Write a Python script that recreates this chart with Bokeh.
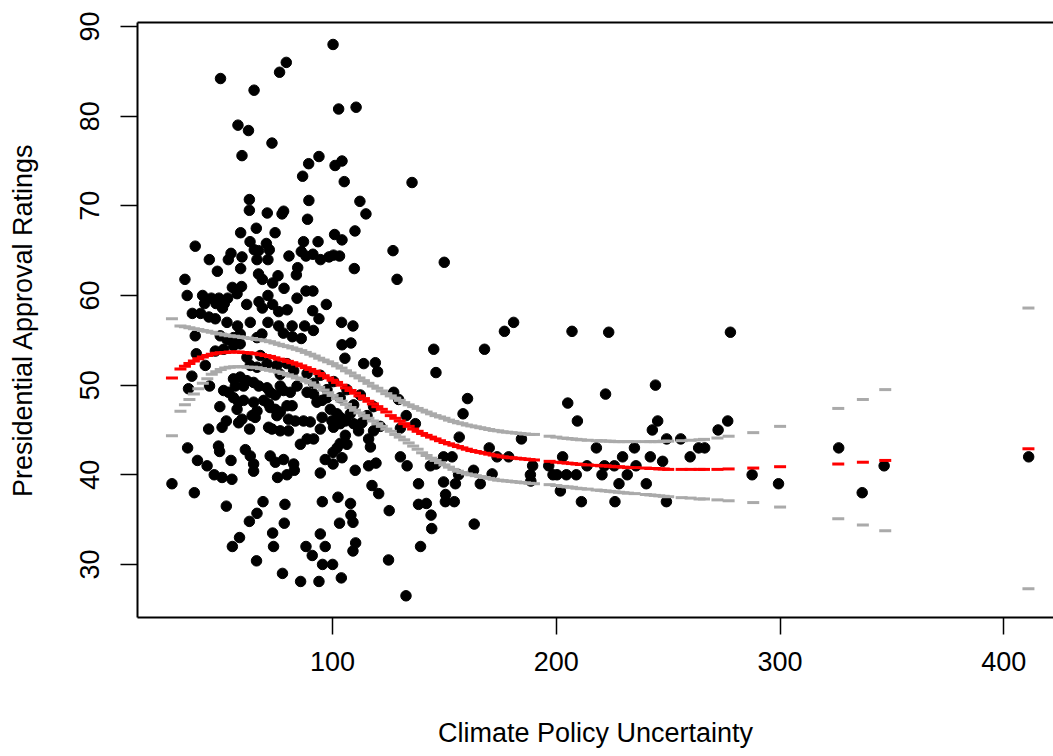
from bokeh.plotting import figure
from bokeh.models import FixedTicker, LinearAxis
from bokeh.embed import file_html
from bokeh.resources import INLINE

# ---- observed data: Climate Policy Uncertainty (x) vs Presidential Approval (y)
cpu_x = [
    100.2, 79.3, 76.3, 49.9, 64.9, 102.7, 110.5, 57.7, 62.4, 72.9, 59.5, 93.9, 89.3, 101.1, 104.2, 86.6, 105.2,
    62.8, 62.8, 70.8, 78.1, 77.4, 89.4, 88.8, 112.2, 114.9, 58.9, 65.9, 74.3, 100.9, 104.2, 110.0, 38.6, 63.1,
    70.4, 71.7, 87.0, 93.5, 127.0, 65.0, 66.9, 44.9, 54.6, 53.4, 59.5, 66.2, 71.1, 80.5, 86.0, 88.1, 91.2, 94.6,
    98.4, 100.4, 103.1, 48.5, 58.9, 84.4, 83.8, 109.7, 128.8, 34.0, 66.9, 68.6, 75.6, 73.2, 78.3, 55.2, 59.3,
    57.3, 35.0, 41.9, 45.8, 49.2, 53.1, 42.8, 47.9, 51.6, 50.8, 61.6, 67.1, 71.1, 68.6, 73.2, 75.9, 79.7, 84.1,
    88.1, 91.2, 91.1, 97.2, 37.3, 41.0, 44.7, 47.6, 52.8, 57.5, 63.2, 71.1, 75.9, 81.9, 87.5, 93.9, 104.0, 109.1,
    78.0, 82.0, 86.0, 91.4, 104.2, 108.2, 105.5,
    38.6, 39.1, 43.1, 37.1, 35.6, 45.0, 51.3, 53.5, 49.6, 44.6, 50.6, 52.5, 58.0, 59.5, 62.9, 35.2, 39.6, 43.9,
    47.1, 50.6, 55.0, 49.0, 49.5, 54.6, 61.0, 63.2, 64.7, 64.7, 28.2, 38.2, 52.5, 68.9, 66.2, 62.8, 78.7, 78.4,
    73.2, 58.4, 55.2, 73.6, 66.0, 77.6, 85.7, 93.9, 103.9, 88.1, 90.9, 95.5, 100.0, 96.7, 94.5, 95.4, 102.4,
    108.0, 103.1, 108.2, 109.1, 110.3, 109.1, 125.0, 125.3, 117.6, 120.6, 94.5, 75.4, 79.6, 82.9, 82.6, 72.1,
    74.4, 78.1, 96.7, 100.2, 104.2, 110.1, 116.1, 119.4, 116.9, 116.1, 130.3, 100.2, 102.0, 103.4, 106.4, 105.7,
    85.6, 88.6, 91.5, 71.4, 72.9, 76.6, 80.3, 80.3, 83.3, 87.0, 90.0, 94.5, 95.3, 99.7, 100.4, 103.4, 105.7,
    109.4, 111.6, 113.1, 118.3, 99.0, 102.0, 103.4, 107.9, 55.7, 58.0, 57.3, 60.2, 64.7, 66.2, 65.4, 64.0, 69.2,
    71.4, 72.1, 74.4, 75.1, 76.6, 79.6, 81.9, 70.7, 72.1, 74.4, 76.6, 78.1, 81.1, 84.1, 88.6, 91.5, 93.0, 95.3,
    97.5, 88.6, 91.5, 94.5, 97.5, 100.5, 103.4, 106.4, 109.4, 112.4, 115.4, 118.3, 121.3, 55.7, 58.7, 61.7,
    64.7, 67.0, 60.2, 56.5, 63.2, 66.2, 70.7, 75.1, 79.6, 82.6, 76.6, 61.7, 67.7, 47.6, 51.3, 55.7, 58.7, 49.8,
    52.8, 55.7, 58.7, 66.2, 68.4, 113.9, 119.1, 120.1, 127.3, 129.5,
    135.5, 149.9, 145.2, 146.2, 167.9, 176.8, 180.9, 207.0, 223.4, 277.8, 160.3, 158.3, 132.9, 130.3, 137.0,
    156.6, 133.3, 132.8, 138.4, 138.4, 141.9, 144.0, 144.3, 139.3, 143.7, 146.2, 149.6, 153.4, 149.6, 154.9,
    156.3, 150.5, 150.4, 154.4, 163.0, 166.0, 163.3, 170.0, 171.3, 173.5, 178.7, 184.4, 189.4, 188.4, 188.6,
    196.6, 198.5, 200.3, 201.8, 202.8, 205.1, 209.4, 204.5, 208.9, 211.2, 213.7, 217.9, 220.4, 221.5, 225.9,
    222.0, 226.2, 228.0, 229.6, 231.7, 234.9, 235.6, 240.2, 242.0, 242.9, 245.3, 244.3, 247.5, 249.3, 249.2,
    255.6, 259.8, 263.6, 266.3, 272.3, 276.6, 287.5, 299.3, 326.2, 336.7, 346.5, 411.1,
]
approval_y = [
    88.0, 86.0, 84.9, 84.2, 82.9, 80.8, 81.0, 79.0, 78.4, 77.0, 75.6, 75.5, 74.7, 74.5, 75.0, 73.3, 72.7,
    70.7, 69.5, 69.2, 69.4, 69.1, 70.6, 68.5, 70.5, 69.1, 67.0, 67.5, 67.0, 66.8, 66.2, 67.2, 65.5, 66.0,
    65.8, 65.1, 66.0, 66.0, 65.0, 65.1, 65.0, 64.0, 64.7, 64.0, 64.3, 64.0, 64.0, 64.4, 64.9, 64.4, 64.6, 64.0,
    64.3, 64.5, 64.4, 62.7, 63.0, 63.1, 62.3, 63.0, 61.8, 61.8, 62.4, 61.8, 62.2, 61.4, 60.8, 60.9, 61.0,
    60.2, 60.0, 60.0, 59.7, 59.7, 59.7, 59.1, 59.1, 59.1, 58.6, 59.0, 59.3, 60.0, 58.6, 59.0, 58.2, 58.4, 59.7,
    60.5, 60.5, 58.3, 59.0, 58.0, 58.0, 57.6, 57.4, 57.0, 56.6, 57.0, 57.0, 56.6, 56.6, 56.6, 57.4, 57.0, 56.6,
    55.8, 55.4, 55.2, 56.1, 54.5, 54.7, 53.0,
    55.5, 53.5, 52.2, 51.0, 49.6, 49.9, 49.4, 49.2, 47.6, 45.1, 45.3, 46.0, 45.8, 46.2, 45.1, 43.0, 41.6, 41.0,
    40.0, 39.7, 39.5, 43.2, 42.6, 41.6, 42.8, 42.1, 41.2, 40.4, 39.0, 38.0, 36.5, 37.0, 35.7, 34.8, 36.7, 34.6,
    33.5, 33.0, 32.0, 32.0, 30.4, 29.0, 28.1, 28.1, 28.5, 32.0, 31.0, 30.0, 30.0, 32.0, 33.4, 37.0, 37.5,
    36.8, 34.6, 35.5, 34.7, 32.4, 31.5, 30.5, 36.0, 38.8, 37.9, 40.2, 39.7, 40.0, 40.5, 41.2, 42.1,
    41.4, 41.7, 41.7, 41.2, 41.9, 40.5, 41.0, 41.3, 43.1, 44.0, 42.0, 42.5, 43.0, 43.5, 43.4, 44.4,
    43.4, 44.0, 44.0, 45.3, 45.1, 44.9, 44.9, 46.2, 46.0, 46.0, 45.9, 45.1, 46.4, 46.0, 45.3, 45.7, 46.0,
    45.7, 44.9, 45.8, 44.9, 47.3, 46.8, 46.4, 46.8, 48.6, 48.1, 47.3, 48.3, 48.1, 47.1, 46.4, 46.6, 48.3,
    47.9, 47.5, 47.3, 46.6, 47.0, 47.7, 47.7, 49.7, 49.2, 48.9, 49.9, 49.4, 49.2, 49.9, 49.2, 49.0, 48.1, 48.3,
    48.6, 51.3, 50.2, 51.1, 49.5, 50.4, 48.6, 49.5, 47.8, 48.9, 46.6, 47.6, 45.4, 50.7, 50.9, 50.5,
    50.3, 49.9, 49.9, 49.9, 52.2, 52.0, 52.4, 52.2, 52.4, 51.6, 51.2, 53.1, 53.3, 53.8, 54.0, 54.4, 54.6, 55.5,
    55.1, 55.3, 55.7, 55.3, 55.7, 52.4, 52.5, 51.5, 49.2, 48.4,
    72.6, 63.7, 54.0, 51.4, 54.0, 56.0, 57.0, 56.0, 55.9, 55.9, 48.5, 46.8, 46.6, 45.2, 45.7,
    44.2, 41.0, 26.5, 39.0, 36.7, 36.8, 35.5, 34.0, 32.0, 41.0, 41.2, 42.0, 42.0, 39.2, 39.0,
    40.0, 37.8, 37.0, 37.0, 40.5, 39.0, 34.5, 43.0, 40.1, 42.0, 42.0, 44.0, 41.0, 40.0, 39.3,
    41.0, 40.0, 40.0, 38.2, 42.0, 48.0, 46.0, 40.0, 40.0, 37.0, 41.0, 43.0, 40.0, 41.0, 41.0,
    49.0, 37.0, 39.0, 42.0, 40.0, 43.0, 41.0, 39.0, 42.0, 45.0, 46.0, 50.0, 41.5, 44.0, 37.0,
    44.0, 42.0, 43.0, 43.0, 45.0, 46.0, 40.0, 39.0, 43.0, 38.0, 41.0, 42.0,
]

# ---- fitted smooth and its confidence band, read at the plotted x positions
fit_x = [
    28.2, 32, 34, 36, 38, 40, 42, 44, 46, 48, 50, 52, 54, 56, 58, 60, 62, 64, 66, 68, 70, 72, 74, 76, 78, 80,
    82, 84, 86, 88, 90, 92, 94, 96, 98, 100, 102, 104, 106, 108, 110, 112, 114, 116, 118, 120, 122, 124, 126,
    128, 130, 132, 134, 136, 138, 140, 142, 144, 146, 148, 150, 152, 154, 156, 158, 160, 162, 164, 166, 168,
    170, 172, 174, 176, 178, 180, 182, 184, 186, 188, 190, 197, 200, 203, 205, 207, 209, 211, 214, 218, 220,
    222, 224, 226, 228, 230, 232, 235, 240, 242, 244, 246, 248, 250, 256, 260, 264, 266, 272, 277, 288, 300,
    326, 337, 347, 411,
]
fit_mid = [
    50.8, 51.8, 52.1, 52.4, 52.7, 52.95, 53.15, 53.3, 53.45, 53.55, 53.6, 53.65, 53.7, 53.7, 53.7, 53.65, 53.6,
    53.55, 53.5, 53.4, 53.3, 53.2, 53.05, 52.9, 52.8, 52.65, 52.5, 52.35, 52.15, 51.95, 51.75, 51.55, 51.3,
    51.05, 50.8, 50.55, 50.3, 50.0, 49.7, 49.4, 49.1, 48.8, 48.5, 48.2, 47.9, 47.6, 47.3, 47.0, 46.6, 46.3,
    46.0, 45.7, 45.4, 45.1, 44.85, 44.6, 44.4, 44.2, 44.0, 43.8, 43.6, 43.45, 43.3, 43.15, 43.0, 42.85, 42.7,
    42.6, 42.5, 42.4, 42.3, 42.2, 42.1, 42.0, 41.95, 41.9, 41.85, 41.8, 41.75, 41.7, 41.65, 41.5, 41.4, 41.35,
    41.3, 41.25, 41.2, 41.15, 41.1, 41.05, 41.0, 41.0, 40.95, 40.9, 40.9, 40.85, 40.8, 40.8, 40.75, 40.7, 40.7,
    40.65, 40.65, 40.6, 40.6, 40.6, 40.6, 40.6, 40.6, 40.65, 40.75, 40.9, 41.2, 41.4, 41.6, 42.9,
]
fit_upper = [
    57.4, 56.6, 56.5, 56.4, 56.3, 56.2, 56.1, 56.0, 55.9, 55.8, 55.7, 55.6, 55.5, 55.45, 55.4, 55.3, 55.25,
    55.2, 55.1, 55.05, 54.95, 54.85, 54.7, 54.55, 54.4, 54.3, 54.15, 54.0, 53.85, 53.65, 53.45, 53.25, 53.0,
    52.8, 52.6, 52.4, 52.15, 51.9, 51.6, 51.35, 51.05, 50.8, 50.5, 50.2, 49.9, 49.65, 49.35, 49.05, 48.8,
    48.55, 48.3, 48.05, 47.8, 47.6, 47.4, 47.2, 47.0, 46.8, 46.6, 46.45, 46.3, 46.1, 45.95, 45.8, 45.7, 45.55,
    45.45, 45.35, 45.25, 45.15, 45.05, 44.95, 44.9, 44.8, 44.75, 44.7, 44.65, 44.6, 44.55, 44.5, 44.5, 44.3,
    44.2, 44.1, 44.05, 44.0, 43.95, 43.9, 43.85, 43.8, 43.8, 43.75, 43.75, 43.7, 43.7, 43.7, 43.7, 43.7, 43.7,
    43.7, 43.7, 43.7, 43.75, 43.75, 43.8, 43.85, 43.9, 43.95, 44.1, 44.3, 44.7, 45.4, 47.4, 48.4, 49.5, 58.6,
]
fit_lower = [
    44.35, 47.1, 47.8, 48.4, 49.0, 49.6, 50.2, 50.7, 51.2, 51.5, 51.75, 51.9, 52.0, 52.05, 52.05, 52.05, 52.0,
    52.0, 51.95, 51.85, 51.75, 51.65, 51.55, 51.45, 51.3, 51.15, 51.0, 50.8, 50.65, 50.45, 50.25, 50.0, 49.75,
    49.45, 49.15, 48.85, 48.5, 48.2, 47.85, 47.5, 47.2, 46.9, 46.6, 46.3, 46.0, 45.7, 45.4, 45.1, 44.85, 44.5,
    44.2, 43.9, 43.55, 43.2, 42.85, 42.45, 42.15, 41.85, 41.6, 41.35, 41.1, 40.85, 40.6, 40.4, 40.25, 40.1,
    40.0, 39.9, 39.8, 39.7, 39.6, 39.5, 39.4, 39.35, 39.3, 39.25, 39.2, 39.15, 39.1, 39.05, 39.0, 38.9, 38.8,
    38.7, 38.65, 38.6, 38.5, 38.45, 38.4, 38.3, 38.25, 38.2, 38.15, 38.1, 38.05, 38.0, 37.95, 37.9, 37.8, 37.75,
    37.7, 37.65, 37.6, 37.55, 37.45, 37.4, 37.3, 37.3, 37.2, 37.1, 36.9, 36.4, 35.1, 34.4, 33.75, 27.3,
]

x_ticks = [100, 200, 300, 400]
y_ticks = [30, 40, 50, 60, 70, 80, 90]
x_title = "Climate Policy Uncertainty"
y_title = "Presidential Approval Ratings"

FONT = "Liberation Sans"
FSIZE = "27px"

p = figure(width=1053, height=756, x_range=(12.8, 422.2), y_range=(24.08, 90.45),
           output_backend="svg", toolbar_location=None,
           min_border_left=137, min_border_right=0, min_border_top=22, min_border_bottom=139,
           x_axis_location=None, y_axis_location=None)
p.outline_line_color = None
p.grid.visible = False
p.background_fill_color = "white"
p.border_fill_color = "white"

xa = LinearAxis(ticker=FixedTicker(ticks=x_ticks), axis_label=x_title)
ya = LinearAxis(ticker=FixedTicker(ticks=y_ticks), axis_label=y_title)
for ax in (xa, ya):
    ax.axis_line_color = "black"
    ax.axis_line_width = 2
    ax.major_tick_line_color = "black"
    ax.major_tick_line_width = 1.5
    ax.major_tick_out = 17
    ax.major_tick_in = 0
    ax.minor_tick_line_color = None
    ax.major_label_text_font = FONT
    ax.major_label_text_font_size = FSIZE
    ax.major_label_text_color = "black"
    ax.axis_label_text_font = FONT
    ax.axis_label_text_font_size = FSIZE
    ax.axis_label_text_font_style = "normal"
    ax.axis_label_text_color = "black"
xa.major_label_standoff = 17
xa.axis_label_standoff = 44
ya.major_label_orientation = "vertical"
ya.major_label_standoff = 21
ya.axis_label_standoff = 40
p.add_layout(xa, "below")
p.add_layout(ya, "left")

top = LinearAxis(ticker=FixedTicker(ticks=[]), major_label_text_font_size="0px")
top.axis_line_color = "black"
top.axis_line_width = 2
top.major_tick_line_color = None
top.minor_tick_line_color = None
p.add_layout(top, "above")

p.scatter(cpu_x, approval_y, size=10.5, color="black", marker="circle")
p.scatter(fit_x, fit_upper, marker="dash", size=12, line_width=3, line_color="#aaaaaa")
p.scatter(fit_x, fit_lower, marker="dash", size=12, line_width=3, line_color="#aaaaaa")
p.scatter(fit_x, fit_mid, marker="dash", size=12, line_width=3, line_color="#ff0000")

open("out.html", "w").write(file_html(p, INLINE))
